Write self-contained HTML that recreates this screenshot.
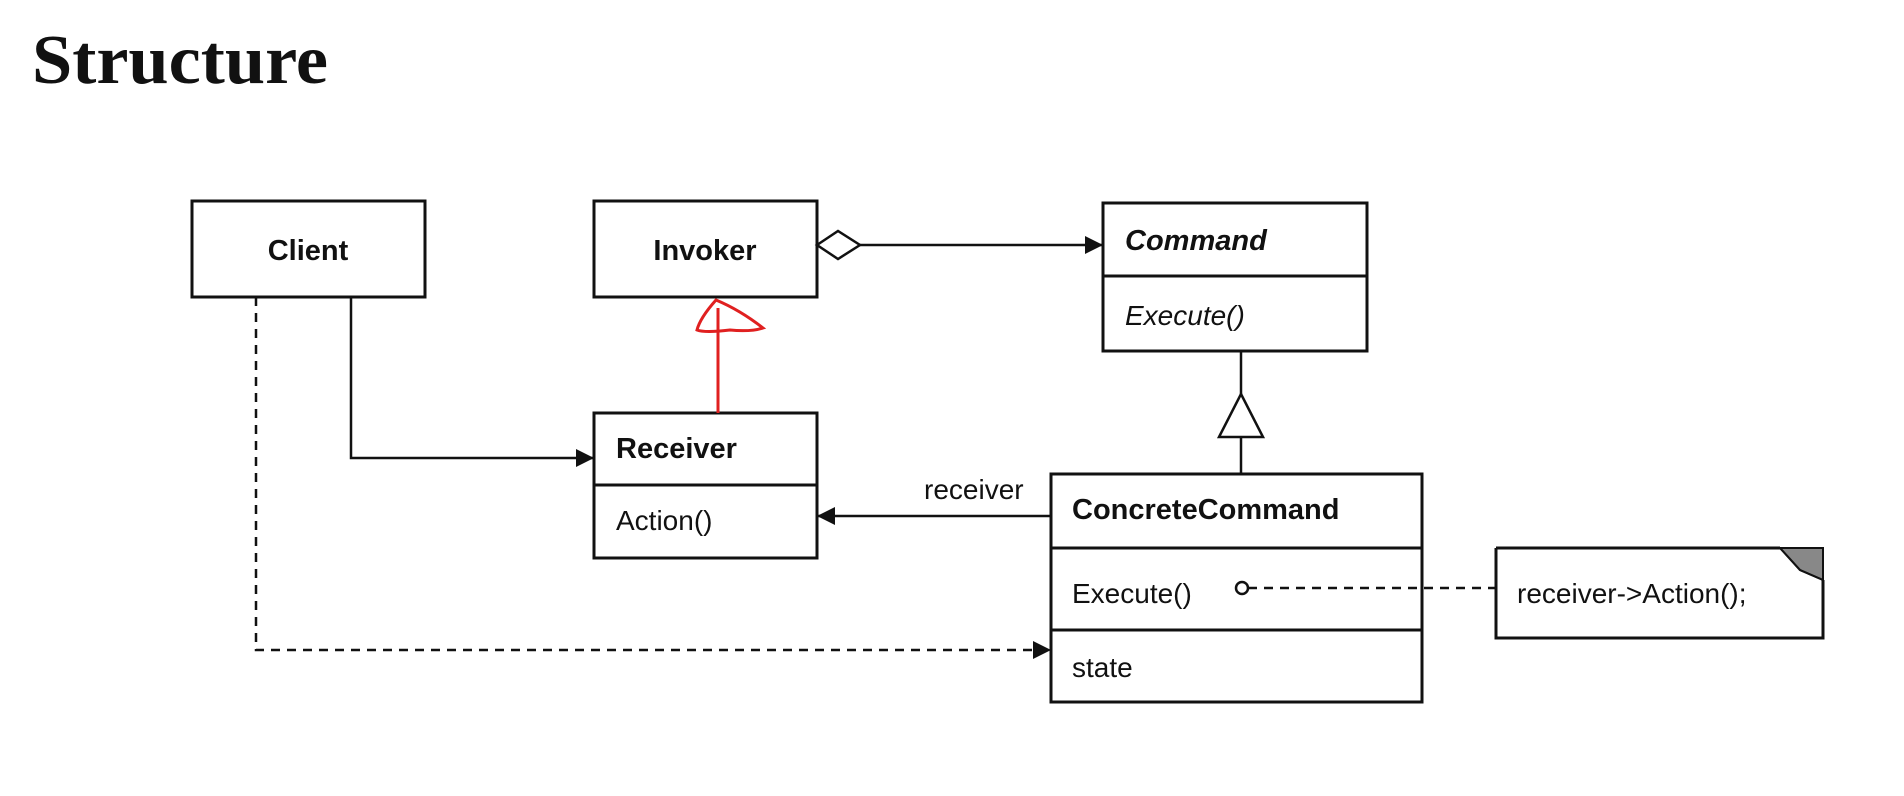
<!DOCTYPE html>
<html><head><meta charset="utf-8"><style>
html,body{margin:0;padding:0;background:#fff;width:1904px;height:796px;overflow:hidden}
svg text{font-family:"Liberation Sans",Arial,sans-serif;fill:#111}
</style></head><body>
<svg width="1904" height="796" viewBox="0 0 1904 796" xmlns="http://www.w3.org/2000/svg">
<defs>
<marker id="fa" viewBox="0 0 10 10" refX="10" refY="5" markerWidth="22" markerHeight="18" markerUnits="userSpaceOnUse" orient="auto"><path d="M0,0 L10,5 L0,10 z" fill="#111"/></marker>
</defs>
<text x="32" y="83" style="font-family:'Liberation Serif',serif;font-weight:bold;font-size:70px" textLength="296" lengthAdjust="spacingAndGlyphs">Structure</text>
<g fill="none" stroke="#111" stroke-width="3">
<rect x="192" y="201" width="233" height="96"/>
<rect x="594" y="201" width="223" height="96"/>
<rect x="1103" y="203" width="264" height="148"/><line x1="1103" y1="276" x2="1367" y2="276"/>
<rect x="594" y="413" width="223" height="145"/><line x1="594" y1="485" x2="817" y2="485"/>
<rect x="1051" y="474" width="371" height="228"/><line x1="1051" y1="548" x2="1422" y2="548"/><line x1="1051" y1="630" x2="1422" y2="630"/>
<path d="M1496,548 H1780 M1823,580 V638 H1496 V548"/>
</g>
<path d="M1780,548 L1823,548 L1823,580 L1800,570 Z" fill="#888" stroke="#111" stroke-width="2"/>
<path d="M1780,548 L1800,570 L1823,580" fill="none" stroke="#111" stroke-width="2"/>
<g stroke="#111" stroke-width="2.5" fill="none">
<path d="M817,245 L838,231 L860,245 L838,259 Z" fill="#fff"/>
<line x1="860" y1="245" x2="1103" y2="245" marker-end="url(#fa)"/>
<path d="M351,297 V458 H594" marker-end="url(#fa)"/>
<path d="M256,297 V650 H1051" stroke-dasharray="9,7" marker-end="url(#fa)"/>
<line x1="1241" y1="351" x2="1241" y2="394"/>
<path d="M1241,394 L1263,437 L1219,437 Z" fill="#fff"/>
<line x1="1241" y1="437" x2="1241" y2="474"/>
<line x1="1051" y1="516" x2="817" y2="516" marker-end="url(#fa)"/>
<circle cx="1242" cy="588" r="6" fill="#fff"/>
<line x1="1248" y1="588" x2="1496" y2="588" stroke-dasharray="9,7"/>
</g>
<g stroke="#e02020" stroke-width="3" fill="none">
<line x1="718" y1="413" x2="718" y2="308"/>
<path d="M716,300 Q700,318 697,330 Q705,333 730,330 Q750,332 763,328 Q740,310 716,300 Z"/>
</g>
<g font-size="29" font-weight="bold">
<text x="308" y="260" text-anchor="middle">Client</text>
<text x="705" y="260" text-anchor="middle">Invoker</text>
<text x="1125" y="250" font-style="italic">Command</text>
<text x="616" y="458">Receiver</text>
<text x="1072" y="519">ConcreteCommand</text>
</g>
<g font-size="28">
<text x="1125" y="325" font-style="italic">Execute()</text>
<text x="616" y="530">Action()</text>
<text x="924" y="499">receiver</text>
<text x="1072" y="603">Execute()</text>
<text x="1072" y="677">state</text>
<text x="1517" y="603">receiver-&gt;Action();</text>
</g>
</svg>
</body></html>
